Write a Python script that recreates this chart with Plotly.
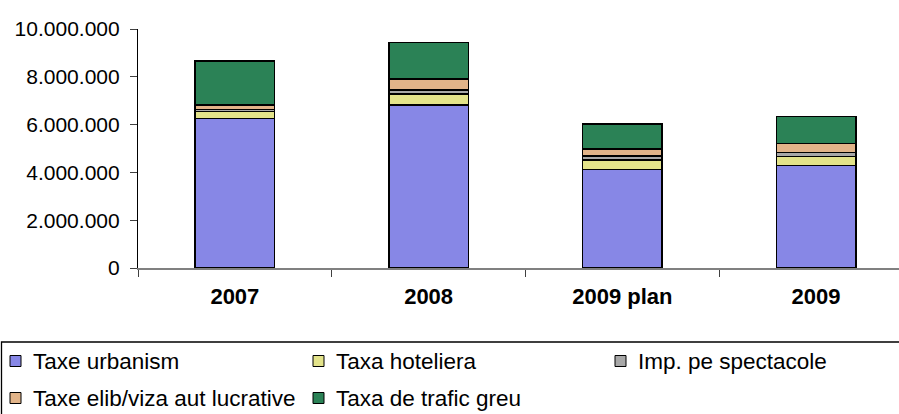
import plotly.graph_objects as go

years = ['2007', '2008', '2009 plan', '2009']
taxe_urbanism = [6250000, 6830000, 4130000, 4280000]
taxa_hoteliera = [290000, 450000, 390000, 380000]
imp_spectacole = [100000, 170000, 170000, 180000]
taxe_elib = [190000, 460000, 280000, 360000]
taxa_trafic = [1840000, 1520000, 1060000, 1130000]

series = [
    ('Taxe urbanism', taxe_urbanism, '#8787E6'),
    ('Taxa hoteliera', taxa_hoteliera, '#E3E38A'),
    ('Imp. pe spectacole', imp_spectacole, '#A8A8A8'),
    ('Taxe elib/viza aut lucrative', taxe_elib, '#E2B489'),
    ('Taxa de trafic greu', taxa_trafic, '#2B8256'),
]

W, H = 899, 414
L, R, T, B = 138, 0, 29, 146
pw, ph = W - L - R, H - T - B


def px(x):
    return (x - L) / pw


def py(y):
    return (H - B - y) / ph


fig = go.Figure()
for name, vals, col in series:
    fig.add_trace(go.Bar(x=years, y=vals, name=name, width=0.41, showlegend=False,
                         marker=dict(color=col, line=dict(color='black', width=1.5))))

# hand-built legend: frame runs off the right and bottom edges like the original
fig.add_shape(type='rect', xref='paper', yref='paper',
              x0=px(1.5), x1=px(W + 20), y0=py(H + 20), y1=py(342),
              line=dict(color='black', width=1.3), fillcolor='rgba(0,0,0,0)')
col_x = [10, 313, 615]
row_y = [361, 398]
for i, (name, vals, col) in enumerate(series):
    cx = col_x[i % 3]
    cy = row_y[i // 3]
    fig.add_shape(type='rect', xref='paper', yref='paper',
                  x0=px(cx), x1=px(cx + 11), y0=py(cy + 5.5), y1=py(cy - 5.5),
                  line=dict(color='black', width=1), fillcolor=col)
    fig.add_annotation(xref='paper', yref='paper', x=px(cx + 21), y=py(cy),
                       xanchor='left', yanchor='middle', showarrow=False,
                       text=name, font=dict(size=22.5))

fig.update_layout(
    width=W, height=H,
    margin=dict(l=L, r=R, t=T, b=B, autoexpand=False),
    barmode='stack',
    separators=',.',
    plot_bgcolor='white', paper_bgcolor='white',
    font=dict(family='Liberation Sans, Arial, sans-serif', color='black'),
    showlegend=False,
    xaxis=dict(range=[-0.5, 3.428], showline=True, linecolor='#808080', linewidth=1.5,
               ticks='outside', tickson='boundaries', ticklen=7, tickcolor='#404040',
               tickfont=dict(size=22),
               tickprefix='<b>', ticksuffix='</b>', ticklabelstandoff=8, showgrid=False),
    yaxis=dict(range=[0, 10000000], tickvals=[0, 2000000, 4000000, 6000000, 8000000, 10000000],
               tickformat=',d', showline=True, linecolor='black', linewidth=1.2,
               ticks='outside', ticklen=7, tickcolor='#404040', showgrid=False,
               zeroline=False, tickfont=dict(size=21), ticklabelstandoff=6),
)

# drop the page's default 8px body margin so the chart sits at the window corner
fig.write_html('out.html', config={'displayModeBar': False},
               post_script="document.body.style.margin='0';")
